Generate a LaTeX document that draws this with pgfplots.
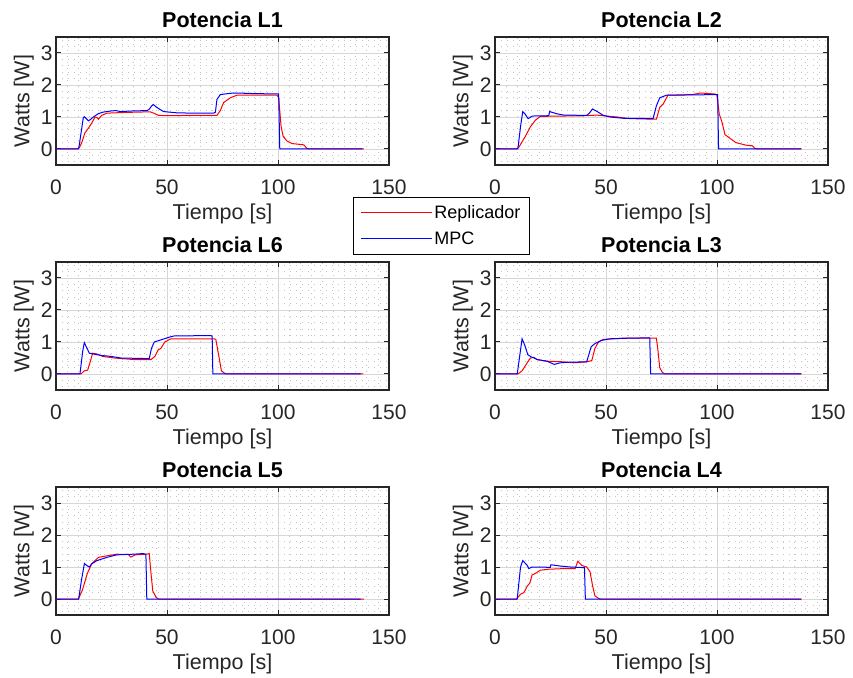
\documentclass[border=0pt]{standalone}
\usepackage{pgfplots}
\pgfplotsset{compat=1.18}
\usepackage{fontspec}
\setmainfont{Liberation Sans}
\definecolor{axgray}{RGB}{38,38,38}
\definecolor{legframe}{RGB}{100,100,100}
\definecolor{gmaj}{RGB}{215,215,215}
\definecolor{gmin}{RGB}{195,195,195}
\definecolor{mred}{RGB}{255,0,0}
\definecolor{mblue}{RGB}{0,0,255}
\pgfplotsset{legend image code/.code={\draw[#1, line width=1pt] (0pt,0pt) -- (71pt,0pt);}}
\pgfplotsset{
 panel/.style={
  scale only axis, width=333pt, height=128pt,
  xmin=0,xmax=150,ymin=-0.5,ymax=3.5,
  xtick={0,50,100,150}, ytick={0,1,2,3},
  minor xtick={0,5,...,150},
  minor ytick={-0.4,-0.2,0.2,0.4,0.6,0.8,1.2,1.4,1.6,1.8,2.2,2.4,2.6,2.8,3.2,3.4},
  grid=both,
  major grid style={gmaj, line width=0.7pt},
  minor grid style={gmin, line width=0.7pt, dash pattern=on 1.2pt off 4.8pt},
  tick align=inside, major tick length=5pt, minor tick length=0pt,
  axis line style={axgray, line width=1.5pt},
  tick style={axgray, line width=1pt},
  ticklabel style={font=\fontsize{21}{25}\selectfont, text=axgray},
  xticklabel shift=11pt,
  /pgf/number format/assume math mode=true,
  label style={font=\fontsize{21.5}{26}\selectfont, text=axgray},
  xlabel style={yshift=-3pt},
  title style={font=\bfseries\fontsize{21.5}{26}\selectfont, text=black},
  ylabel={Watts [W]},
  xlabel={Tiempo [s]},
  every axis plot/.append style={line width=1pt},
 }
}
\begin{document}
\begin{tikzpicture}
\useasboundingbox (0,0) rectangle (853pt,677pt);
% ---------- L1 ----------
\begin{axis}[panel, at={(56pt,512pt)}, anchor=south west, title={Potencia L1},
  legend style={at={(0.892,-0.25)}, anchor=north west, line width=0.6pt,
    font=\fontsize{18}{21}\selectfont, cells={anchor=west}, inner xsep=7pt, inner ysep=6pt, row sep=8pt},
  every legend/.append style={draw=legframe}]
\addplot[color=mred, draw=mred] coordinates {(0,0)(9.6,0)(10.6,0.05)(11.6,0.2)(13,0.5)(14.6,0.65)(16,0.8)(17.6,1.0)(18.5,0.98)(19.1,0.93)(20.6,1.05)(22.9,1.12)(30,1.14)(41,1.16)(42.5,1.16)(44,1.12)(46.2,1.05)(50,1.04)(60,1.05)(72.5,1.05)(74,1.2)(75.5,1.45)(78.5,1.6)(81.5,1.68)(99.6,1.68)(100.3,1.6)(101.4,0.7)(102.3,0.4)(104,0.25)(106.4,0.17)(111.6,0.13)(113,0.02)(114,0)(138.7,0)};
\addlegendentry{Replicador}
\addplot[color=mblue, draw=mblue] coordinates {(0,0)(10.2,0)(11.5,0.6)(12.3,0.98)(12.8,1.01)(13.6,0.95)(14.6,0.88)(15.5,0.92)(16.8,1.0)(19,1.1)(21,1.15)(25,1.19)(27,1.2)(29,1.17)(32,1.18)(35,1.19)(41,1.2)(42,1.24)(43,1.34)(43.8,1.39)(45.4,1.3)(48.4,1.17)(54.5,1.13)(62,1.12)(71,1.12)(71.8,1.15)(72.5,1.55)(74,1.7)(78.5,1.74)(81,1.75)(90,1.73)(100.3,1.72)(100.8,0)(138,0)};
\addlegendentry{MPC}
\end{axis}
% ---------- L2 ----------
\begin{axis}[panel, at={(495pt,512pt)}, anchor=south west, title={Potencia L2}]
\addplot[mred] coordinates {(0,0)(9.7,0)(10.7,0.05)(13.7,0.4)(16,0.7)(18.2,0.9)(20.4,1.02)(30.9,1.03)(41.3,1.04)(45.8,1.06)(54.8,1.0)(60.7,0.95)(72.7,0.93)(74.2,1.3)(75.7,1.4)(77.9,1.68)(89,1.7)(92.5,1.75)(98.8,1.72)(99.9,1.7)(101,1.1)(102.2,0.85)(103.6,0.45)(105.5,0.35)(108.5,0.2)(113,0.12)(116,0.1)(117,0.02)(118,0)(138.1,0)};
\addplot[mblue] coordinates {(0,0)(10.3,0)(11.5,0.7)(12.5,1.17)(13.5,1.1)(14.9,0.95)(15.7,0.98)(16.7,1.03)(24.2,1.04)(24.6,1.17)(25.5,1.15)(27.9,1.1)(30.9,1.06)(41.3,1.05)(42.5,1.12)(43.9,1.25)(45.8,1.18)(48.8,1.05)(51.8,1.0)(57.8,0.96)(71.2,0.95)(72.7,1.35)(74.2,1.6)(77.2,1.68)(99.6,1.7)(100.3,1.7)(100.7,0)(137.9,0)};
\end{axis}
% ---------- L6 ----------
\begin{axis}[panel, at={(56pt,287pt)}, anchor=south west, title={Potencia L6}]
\addplot[mred] coordinates {(0,0)(11.25,0)(12.75,0.1)(14.25,0.12)(15.5,0.4)(16.5,0.65)(18.75,0.62)(21,0.55)(26.25,0.5)(35.25,0.45)(42.75,0.45)(44.55,0.55)(46,0.75)(47.25,0.8)(49,1.0)(51.75,1.1)(71.25,1.1)(72,1.08)(73.5,0.5)(74.5,0.1)(76,0.02)(77,0)(138.5,0)};
\addplot[mblue] coordinates {(0,0)(10.8,0)(12,0.7)(12.75,0.98)(14,0.8)(15,0.65)(17.25,0.62)(20.25,0.58)(24.75,0.55)(29.25,0.5)(42,0.48)(43,0.8)(44.25,1.0)(46.5,1.05)(48.75,1.1)(51,1.15)(53.25,1.19)(69.75,1.2)(70.35,1.18)(70.65,0)(137.25,0)};
\end{axis}
% ---------- L3 ----------
\begin{axis}[panel, at={(495pt,287pt)}, anchor=south west, title={Potencia L3}]
\addplot[mred] coordinates {(0,0)(10.3,0)(12.2,0.1)(14.5,0.35)(16,0.5)(17.5,0.52)(19,0.45)(23.4,0.4)(30.9,0.38)(35.4,0.35)(41.3,0.38)(43.6,0.42)(45,0.8)(46.6,1.0)(48.8,1.08)(57.8,1.12)(72.7,1.12)(73.3,0.8)(74.2,0.2)(75.4,0.05)(76.5,0)(138.1,0)};
\addplot[mblue] coordinates {(0,0)(10,0)(11.2,0.6)(12.2,1.1)(13.4,0.9)(14.8,0.6)(16.7,0.52)(17.7,0.5)(19,0.45)(23.4,0.4)(26.7,0.3)(29.4,0.35)(33.9,0.37)(41.3,0.38)(43.3,0.85)(45,0.95)(48,1.05)(51.8,1.1)(60.7,1.12)(69.7,1.13)(70.1,0)(137.9,0)};
\end{axis}
% ---------- L5 ----------
\begin{axis}[panel, at={(56pt,62pt)}, anchor=south west, title={Potencia L5}]
\addplot[mred] coordinates {(0,0)(10.1,0)(12,0.3)(14.1,0.8)(16.1,1.1)(19.1,1.3)(23,1.35)(27.4,1.4)(32.6,1.39)(33.7,1.31)(35.7,1.38)(40.9,1.4)(42,1.42)(42.8,0.8)(43.6,0.25)(45.1,0.05)(46.2,0)(138.7,0)};
\addplot[mblue] coordinates {(0,0)(10.2,0)(11.5,0.6)(12.8,1.11)(13.8,1.05)(15,1.0)(16.1,1.1)(18.4,1.2)(22.9,1.3)(27.4,1.38)(34.9,1.4)(39.1,1.42)(40.5,1.4)(40.9,0)(137.25,0)};
\end{axis}
% ---------- L4 ----------
\begin{axis}[panel, at={(495pt,62pt)}, anchor=south west, title={Potencia L4}]
\addplot[mred] coordinates {(0,0)(9.7,0)(11.5,0.15)(13,0.2)(14.5,0.4)(15.7,0.5)(16.7,0.75)(18.2,0.8)(20.4,0.9)(24.2,0.93)(30.9,0.95)(36.1,0.95)(37.3,1.18)(39.1,1.05)(41.3,1.0)(42.8,0.85)(44,0.4)(45,0.1)(46.6,0.02)(47.5,0)(138.1,0)};
\addplot[mblue] coordinates {(0,0)(10,0)(11.5,1.0)(12.5,1.2)(14.5,1.05)(15.2,0.95)(16.7,1.0)(24.9,0.99)(25.2,1.07)(29.4,1.03)(33.9,1.0)(40.3,0.98)(40.7,0)(137.9,0)};
\end{axis}
\end{tikzpicture}
\end{document}
